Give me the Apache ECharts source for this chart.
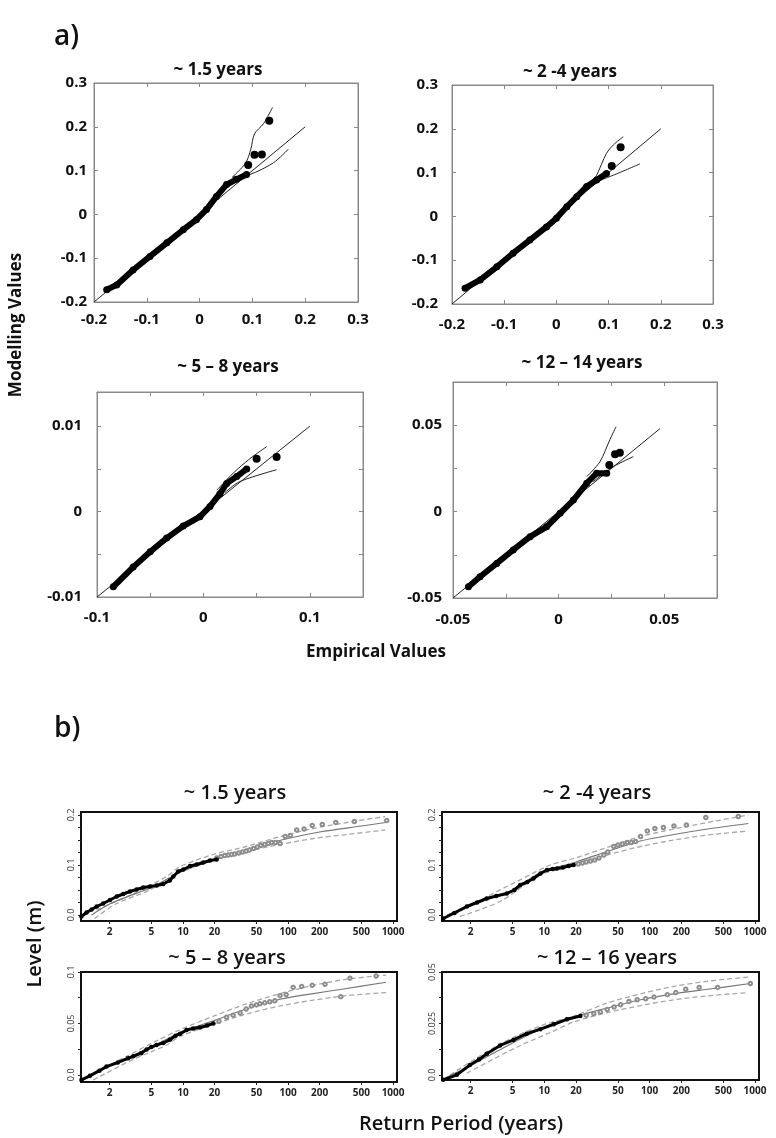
<!DOCTYPE html>
<html><head><meta charset="utf-8">
<script src="https://cdn.jsdelivr.net/npm/echarts@6/dist/echarts.min.js"></script>
<style>html,body{margin:0;padding:0;background:#fff}#c{width:776px;height:1138px}</style>
</head><body><div id="c"></div><script>
// ---------------- Panel a) Q-Q data (empirical x, modelled y) ----------------
const a1RefX = [-0.2, 0.2], a1RefY = [-0.2, 0.2];
const a1DenseX = [-0.176,-0.157,-0.126,-0.094,-0.062,-0.031,-0.006,0.013,0.032,0.051,0.07,0.089];
const a1DenseY = [-0.172,-0.161,-0.127,-0.096,-0.065,-0.035,-0.012,0.011,0.041,0.068,0.08,0.091];
const a1OutX = [0.092,0.104,0.118,0.132];
const a1OutY = [0.113,0.136,0.137,0.214];
const a1UpX = [0.062,0.087,0.097,0.104,0.121,0.138];
const a1UpY = [0.085,0.117,0.149,0.184,0.207,0.244];
const a1LoX = [0.062,0.095,0.14,0.168];
const a1LoY = [0.085,0.091,0.118,0.149];

const a2RefX = [-0.2, 0.2], a2RefY = [-0.2, 0.2];
const a2DenseX = [-0.175,-0.146,-0.114,-0.083,-0.051,-0.019,0.0,0.02,0.039,0.058,0.077,0.096];
const a2DenseY = [-0.164,-0.145,-0.115,-0.084,-0.054,-0.024,-0.004,0.022,0.045,0.068,0.083,0.098];
const a2OutX = [0.106,0.123];
const a2OutY = [0.115,0.158];
const a2UpX = [0.068,0.077,0.096,0.109,0.128];
const a2UpY = [0.08,0.094,0.144,0.163,0.182];
const a2LoX = [0.068,0.109,0.16];
const a2LoY = [0.076,0.094,0.12];

const a3RefX = [-0.1, 0.1], a3RefY = [-0.01, 0.01];
const a3DenseX = [-0.0847,-0.066,-0.05,-0.0345,-0.019,-0.0032,0.0062,0.0156,0.0219,0.0313,0.0407];
const a3DenseY = [-0.0088,-0.0065,-0.0047,-0.0031,-0.0017,-0.0006,0.0006,0.0021,0.0033,0.0041,0.005];
const a3OutX = [0.05,0.0688];
const a3OutY = [0.0062,0.0064];
const a3UpX = [0.0125,0.028,0.0438,0.0595];
const a3UpY = [0.0025,0.0045,0.0062,0.0076];
const a3LoX = [0.02,0.034,0.0688];
const a3LoY = [0.0022,0.0035,0.0049];

const a4RefX = [-0.05, 0.048], a4RefY = [-0.05, 0.048];
const a4DenseX = [-0.0427,-0.0372,-0.0293,-0.0215,-0.0135,-0.0057,0.0007,0.007,0.0133,0.018,0.0228];
const a4DenseY = [-0.0435,-0.0377,-0.03,-0.0222,-0.0145,-0.0088,-0.001,0.0067,0.0164,0.0222,0.0222];
const a4OutX = [0.024,0.0267,0.029];
const a4OutY = [0.027,0.0332,0.0341];
const a4UpX = [0.0133,0.0196,0.0243,0.0272];
const a4UpY = [0.0202,0.0289,0.0417,0.0491];
const a4LoX = [0.0164,0.0259,0.0354];
const a4LoY = [0.0173,0.026,0.0318];

const aTitles = ['~ 1.5 years', '~ 2 -4 years', '~ 5 \u2013 8 years', '~ 12 \u2013 14 years'];
const a12Ticks = [-0.2,-0.1,0,0.1,0.2,0.3];
const a3XTicks = [-0.1,-0.05,0,0.05,0.1,0.15], a3XLabels = [-0.1,0,0.1];
const a3YTicks = [-0.01,-0.005,0,0.005,0.01], a3YLabels = [-0.01,0,0.01];
const a4Ticks = [-0.05,-0.025,0,0.025,0.05,0.075], a4Labels = [-0.05,0,0.05];

// ---------------- Panel b) return level data (return period T, level m) ----------------
const bTitles = ['~ 1.5 years', '~ 2 -4 years', '~ 5 \u2013 8 years', '~ 12 \u2013 16 years'];
const periodTicks = [2,5,10,20,50,100,200,500,1000];

const b1BlackT = [1.08,1.21,1.35,1.51,1.74,2.02,2.34,2.7,3.13,3.62,4.19,4.85,5.62,6.49,7.5,8.1,9.0,10.1,11.7,13.5,15.6,18.1,20.9];
const b1BlackL = [-0.003,0.005,0.011,0.017,0.023,0.03,0.037,0.042,0.047,0.051,0.055,0.057,0.059,0.062,0.069,0.077,0.087,0.091,0.098,0.101,0.105,0.109,0.111];
const b1OpenT = [21,23,25,27,29,31,34,37,40,43,47,51,55,60,65,70,76,84,94,105,121,142,170,212,285,428,871];
const b1OpenL = [0.114,0.117,0.119,0.12,0.121,0.122,0.124,0.126,0.128,0.13,0.133,0.136,0.139,0.141,0.143,0.145,0.145,0.143,0.157,0.159,0.17,0.172,0.179,0.181,0.185,0.187,0.189];
const b1FitT = [1.35,2,3,5,10,20,50,100,200,500,850];
const b1FitL = [0.0,0.022,0.037,0.055,0.088,0.11,0.137,0.153,0.166,0.178,0.185];
const b1UpT = [1.5,3.4,7,9.4,19.5,40,84,174,362,840];
const b1UpL = [0.01,0.043,0.077,0.097,0.121,0.137,0.157,0.173,0.185,0.197];
const b1LoT = [1.44,2.34,4.85,9.4,19.5,40,84,174,362,840];
const b1LoL = [-0.007,0.023,0.05,0.087,0.11,0.127,0.141,0.153,0.161,0.17];

const b2BlackT = [1.1,1.4,1.84,2.3,2.85,3.5,4.41,5.2,5.91,6.9,7.9,9.2,10.6,12,13.2,15,17,19];
const b2BlackL = [-0.007,0.004,0.017,0.025,0.033,0.038,0.043,0.05,0.06,0.066,0.073,0.083,0.09,0.092,0.093,0.095,0.098,0.1];
const b2OpenT = [21,23,25,27.4,30,33,36.7,40,45.7,50,55,61.3,67,73.6,82,95,112,135,170,223,341,693];
const b2OpenL = [0.102,0.104,0.106,0.108,0.11,0.114,0.12,0.126,0.137,0.14,0.142,0.145,0.145,0.147,0.157,0.168,0.173,0.175,0.178,0.18,0.195,0.197];
const b2FitT = [1.2,2,3,5,9.2,20,39.5,82,170,354,862];
const b2FitL = [0.0,0.02,0.033,0.05,0.085,0.106,0.127,0.148,0.161,0.172,0.183];
const b2UpT = [1.4,2.64,5.5,11.4,19,39.5,82,170,354,862];
const b2UpL = [0.0,0.033,0.067,0.1,0.113,0.135,0.157,0.172,0.185,0.2];
const b2LoT = [1.58,3.8,9.2,19,39.5,82,170,354,862];
const b2LoL = [-0.003,0.027,0.08,0.098,0.12,0.137,0.15,0.16,0.168];

const b3BlackT = [1.08,1.3,1.6,1.87,2.4,3.0,3.37,4.0,4.5,5.0,5.6,6.5,7.5,8.5,9.4,10.8,12.5,14.5,17,19.5];
const b3BlackL = [-0.005,-0.001,0.004,0.008,0.012,0.016,0.018,0.021,0.0245,0.027,0.029,0.031,0.034,0.038,0.04,0.0435,0.045,0.046,0.048,0.05];
const b3OpenT = [22,26,30,35,40,45,50,54,60,67,75,84,96,112,135,170,225,318,389,689];
const b3OpenL = [0.052,0.056,0.058,0.06,0.064,0.067,0.068,0.069,0.07,0.071,0.072,0.077,0.078,0.085,0.086,0.087,0.088,0.076,0.094,0.096];
const b3FitT = [1.2,2,5,9.4,20,40,84,174,313,858];
const b3FitL = [-0.003,0.009,0.027,0.041,0.053,0.064,0.0735,0.079,0.083,0.09];
const b3UpT = [1.3,2.9,5.6,9.4,19.5,40,84,174,363,858];
const b3UpL = [-0.001,0.018,0.033,0.044,0.057,0.069,0.079,0.087,0.093,0.097];
const b3LoT = [1.4,3.37,7,9.4,19.5,40,84,174,363,858];
const b3LoL = [-0.005,0.015,0.029,0.0375,0.049,0.059,0.067,0.0726,0.077,0.08];

const b4BlackT = [1.1,1.48,1.97,2.4,2.85,3.81,5.1,6.8,9.2,12.3,16.4,22];
const b4BlackL = [-0.0024,0.0,0.0048,0.0075,0.0103,0.0143,0.017,0.02,0.0222,0.0246,0.027,0.0286];
const b4OpenT = [25,29.5,34,39.5,46,53,63.6,76,91.6,110,147,177,220,295,442,902];
const b4OpenL = [0.029,0.0297,0.0305,0.0318,0.033,0.0341,0.0357,0.0365,0.037,0.0378,0.039,0.04,0.0416,0.0425,0.0425,0.0444];
const b4FitT = [1.1,2,5,9.2,20,39.5,82,170,354,900];
const b4FitL = [-0.002,0.0045,0.0155,0.0222,0.0285,0.0325,0.0365,0.0394,0.0416,0.0444];
const b4UpT = [1.28,3.81,9.2,19,39.5,82,170,354,862];
const b4UpL = [0.0,0.015,0.0238,0.0286,0.0349,0.0394,0.043,0.0455,0.0475];
const b4LoT = [1.84,5.5,11.4,19,39.5,82,170,354,862];
const b4LoL = [0.0008,0.0135,0.0206,0.0257,0.0302,0.0337,0.0365,0.0384,0.04];

const b12YTicks = [0,0.025,0.05,0.075,0.1,0.125,0.15,0.175,0.2], b12YLabels = [0,0.1,0.2];
const b3YTicks = [0,0.025,0.05,0.075,0.1], b3YLabels = [0,0.05,0.1];
const b4YTicks = [0,0.0125,0.025,0.0375,0.05], b4YLabels = [0,0.025,0.05];

// ---------------- build ----------------
const FONT = '"Open Sans", "DejaVu Sans", sans-serif';
const zip = (xs, ys) => xs.map((x, i) => [x, ys[i]]);
const option = {animation:false, backgroundColor:'#fff', grid:[], xAxis:[], yAxis:[], series:[], graphic:[]};

function text(str, x, y, font, opts) {
  opts = opts || {};
  option.graphic.push({type:'text', x:x, y:y, rotation:opts.rot || 0, silent:true,
    style:{text:str, font:font, fill:opts.fill || '#111', align:opts.align || 'center', verticalAlign:'middle',
      textAlign:opts.align || 'center', textVerticalAlign:'middle'}});
}

function panelA(p) {
  const gi = option.grid.length;
  option.grid.push({left:p.box[0], top:p.box[1], width:p.box[2], height:p.box[3], show:true,
    borderColor:'#8a8a8a', borderWidth:1, backgroundColor:'#fff'});
  const xi = option.xAxis.length, yi = option.yAxis.length;
  const tick = (vals) => ({show:true, inside:true, length:4, customValues:vals, lineStyle:{color:'#888', width:1}});
  const line = {show:true, onZero:false, lineStyle:{color:'#8a8a8a', width:1}};
  const lab = (vals, m) => ({customValues:vals, margin:m, color:'#111', fontWeight:'bold', fontSize:15, fontFamily:FONT});
  option.xAxis.push({type:'value', gridIndex:gi, position:'bottom', min:p.x[0], max:p.x[1], interval:p.x[2],
    axisLine:line, axisTick:tick(p.xTicks), axisLabel:lab(p.xLabels, p.xm), splitLine:{show:false}});
  option.xAxis.push({type:'value', gridIndex:gi, position:'top', min:p.x[0], max:p.x[1], interval:p.x[2],
    axisLine:line, axisTick:tick(p.xTicks), axisLabel:{show:false}, splitLine:{show:false}});
  option.yAxis.push({type:'value', gridIndex:gi, position:'left', min:p.y[0], max:p.y[1], interval:p.y[2],
    axisLine:line, axisTick:tick(p.yTicks), axisLabel:lab(p.yLabels, p.ym), splitLine:{show:false}});
  option.yAxis.push({type:'value', gridIndex:gi, position:'right', min:p.y[0], max:p.y[1], interval:p.y[2],
    axisLine:line, axisTick:tick(p.yTicks), axisLabel:{show:false}, splitLine:{show:false}});
  const base = {xAxisIndex:xi, yAxisIndex:yi, silent:true};
  option.series.push(Object.assign({type:'line', data:zip(p.ref[0], p.ref[1]), showSymbol:false,
    lineStyle:{color:'#222', width:1}, z:2}, base));
  option.series.push(Object.assign({type:'line', data:zip(p.up[0], p.up[1]), showSymbol:false, smooth:0.3,
    lineStyle:{color:'#222', width:1}, z:2}, base));
  option.series.push(Object.assign({type:'line', data:zip(p.lo[0], p.lo[1]), showSymbol:false, smooth:0.3,
    lineStyle:{color:'#222', width:1}, z:2}, base));
  option.series.push(Object.assign({type:'line', data:zip(p.dense[0], p.dense[1]), symbol:'circle', symbolSize:7,
    showSymbol:true, itemStyle:{color:'#000', opacity:1}, lineStyle:{color:'#000', width:6}, z:4}, base));
  option.series.push(Object.assign({type:'scatter', data:zip(p.out[0], p.out[1]), symbol:'circle', symbolSize:8,
    itemStyle:{color:'#000', opacity:1}, z:4}, base));
  text(p.title, p.tpos[0], p.tpos[1], 'bold 17px ' + FONT);
}

function fmtLevel(v) { return Math.abs(v) < 1e-9 ? '0.0' : String(+v.toPrecision(4)); }

function panelB(p) {
  const gi = option.grid.length;
  option.grid.push({left:p.box[0], top:p.box[1], width:p.box[2], height:p.box[3], show:true,
    borderColor:'#111', borderWidth:2, backgroundColor:'#fff'});
  const xi = option.xAxis.length, yi = option.yAxis.length;
  option.xAxis.push({type:'log', logBase:10, gridIndex:gi, position:'bottom', min:1.07, max:1090,
    axisLine:{show:false, onZero:false}, splitLine:{show:false}, minorTick:{show:false},
    axisTick:{show:true, customValues:periodTicks, length:3, lineStyle:{color:'#222', width:1}},
    axisLabel:{customValues:periodTicks, margin:6, fontSize:10, fontWeight:'bold', color:'#222', fontFamily:FONT,
      formatter:(v) => String(Math.round(v))}});
  option.yAxis.push({type:'value', gridIndex:gi, position:'left', min:p.y[0], max:p.y[1],
    axisLine:{show:false, onZero:false}, splitLine:{show:false},
    axisTick:{show:true, customValues:p.yTicks, length:3, lineStyle:{color:'#222', width:1}},
    axisLabel:{customValues:p.yLabels, rotate:90, margin:5, fontSize:9, color:'#333', fontFamily:FONT,
      formatter:fmtLevel}});
  const base = {xAxisIndex:xi, yAxisIndex:yi, silent:true};
  const dash = {color:'#a8a8a8', width:1.3, type:[5,3]};
  option.series.push(Object.assign({type:'line', data:zip(p.up[0], p.up[1]), showSymbol:false, smooth:0.3, lineStyle:dash, z:2}, base));
  option.series.push(Object.assign({type:'line', data:zip(p.lo[0], p.lo[1]), showSymbol:false, smooth:0.3, lineStyle:dash, z:2}, base));
  option.series.push(Object.assign({type:'line', data:zip(p.fit[0], p.fit[1]), showSymbol:false, smooth:0.3,
    lineStyle:{color:'#777', width:1.2}, z:3}, base));
  option.series.push(Object.assign({type:'scatter', data:zip(p.open[0], p.open[1]), symbol:'emptyCircle', symbolSize:3.5,
    itemStyle:{color:'#8c8c8c', borderColor:'#8c8c8c', borderWidth:0.8, opacity:1}, z:4}, base));
  option.series.push(Object.assign({type:'line', data:zip(p.black[0], p.black[1]), symbol:'circle', symbolSize:4.5,
    showSymbol:true, itemStyle:{color:'#000', opacity:1}, lineStyle:{color:'#000', width:3}, z:5}, base));
  text(p.title, p.tpos[0], p.tpos[1], '600 20px ' + FONT);
}

panelA({box:[94,83,264,219], x:[-0.2,0.3,0.1], y:[-0.2,0.3,0.1], xTicks:a12Ticks, yTicks:a12Ticks,
  xLabels:a12Ticks, yLabels:a12Ticks, xm:10, ym:7,
  ref:[a1RefX,a1RefY], dense:[a1DenseX,a1DenseY], out:[a1OutX,a1OutY], up:[a1UpX,a1UpY], lo:[a1LoX,a1LoY],
  title:aTitles[0], tpos:[218,70]});
panelA({box:[452,85,261,219], x:[-0.2,0.3,0.1], y:[-0.2,0.3,0.1], xTicks:a12Ticks, yTicks:a12Ticks,
  xLabels:a12Ticks, yLabels:a12Ticks, xm:13, ym:14,
  ref:[a2RefX,a2RefY], dense:[a2DenseX,a2DenseY], out:[a2OutX,a2OutY], up:[a2UpX,a2UpY], lo:[a2LoX,a2LoY],
  title:aTitles[1], tpos:[570,72]});
panelA({box:[97,392,266,205], x:[-0.1,0.15,0.05], y:[-0.01,0.014,0.005], xTicks:a3XTicks, yTicks:a3YTicks,
  xLabels:a3XLabels, yLabels:a3YLabels, xm:13, ym:15,
  ref:[a3RefX,a3RefY], dense:[a3DenseX,a3DenseY], out:[a3OutX,a3OutY], up:[a3UpX,a3UpY], lo:[a3LoX,a3LoY],
  title:aTitles[2], tpos:[228,367]});
panelA({box:[453,382,264,216], x:[-0.05,0.075,0.025], y:[-0.05,0.075,0.025], xTicks:a4Ticks, yTicks:a4Ticks,
  xLabels:a4Labels, yLabels:a4Labels, xm:14, ym:11,
  ref:[a4RefX,a4RefY], dense:[a4DenseX,a4DenseY], out:[a4OutX,a4OutY], up:[a4UpX,a4UpY], lo:[a4LoX,a4LoY],
  title:aTitles[3], tpos:[582,363]});

panelB({box:[81,812,316,109], y:[-0.012,0.206], yTicks:b12YTicks, yLabels:b12YLabels,
  black:[b1BlackT,b1BlackL], open:[b1OpenT,b1OpenL], fit:[b1FitT,b1FitL], up:[b1UpT,b1UpL], lo:[b1LoT,b1LoL],
  title:bTitles[0], tpos:[235,793]});
panelB({box:[442,812,317,109], y:[-0.012,0.206], yTicks:b12YTicks, yLabels:b12YLabels,
  black:[b2BlackT,b2BlackL], open:[b2OpenT,b2OpenL], fit:[b2FitT,b2FitL], up:[b2UpT,b2UpL], lo:[b2LoT,b2LoL],
  title:bTitles[1], tpos:[597,793]});
panelB({box:[81,972,316,110], y:[-0.007,0.1], yTicks:b3YTicks, yLabels:b3YLabels,
  black:[b3BlackT,b3BlackL], open:[b3OpenT,b3OpenL], fit:[b3FitT,b3FitL], up:[b3UpT,b3UpL], lo:[b3LoT,b3LoL],
  title:bTitles[2], tpos:[227,958]});
panelB({box:[442,972,317,108], y:[-0.0025,0.05], yTicks:b4YTicks, yLabels:b4YLabels,
  black:[b4BlackT,b4BlackL], open:[b4OpenT,b4OpenL], fit:[b4FitT,b4FitL], up:[b4UpT,b4UpL], lo:[b4LoT,b4LoL],
  title:bTitles[3], tpos:[607,958]});

// panel letters and axis titles
text('a)', 54, 37, '600 28px ' + FONT, {align:'left'});
text('b)', 54, 729, '600 28px ' + FONT, {align:'left'});
text('Modelling Values', 16, 325, 'bold 17px ' + FONT, {rot:Math.PI/2});
text('Empirical Values', 376, 652, 'bold 17px ' + FONT);
text('Level (m)', 35, 944, '600 20px ' + FONT, {rot:Math.PI/2});
text('Return Period (years)', 461, 1124, '600 20px ' + FONT);

const chart = echarts.init(document.getElementById('c'), null, {renderer:'canvas', width:776, height:1138});
chart.setOption(option);
</script></body></html>
